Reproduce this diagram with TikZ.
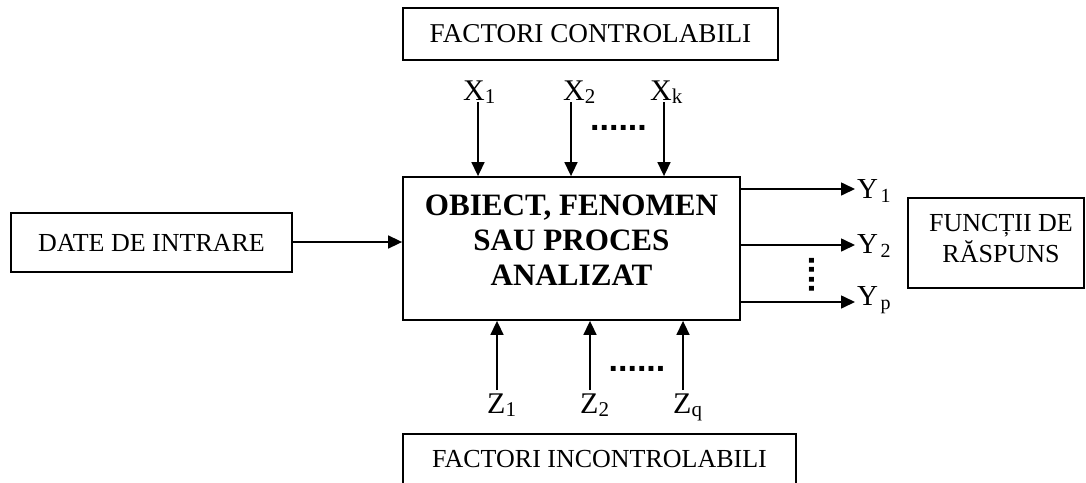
\documentclass[tikz,border=0pt]{standalone}
\usepackage{fontspec}
\setmainfont{Liberation Serif}
\newfontfamily\dotfont{Liberation Sans}
\usetikzlibrary{arrows.meta}
% variable name with a lowered, smaller index
\newcommand\varsub[2]{#1\raisebox{-3pt}{\fontsize{21}{21}\selectfont #2}}
\newcommand\outsub[2]{#1\hspace{2.5pt}\raisebox{-4pt}{\fontsize{20}{20}\selectfont #2}}
\begin{document}
\begin{tikzpicture}[x=1pt,y=-1pt,
  box/.style={draw,line width=1.8pt,inner sep=0pt,align=center},
  arr/.style={line width=1.6pt,-{Triangle[length=14pt,width=13pt]}},
  lbl/.style={inner sep=0pt,anchor=base west,font=\fontsize{30}{30}\selectfont},
  ylbl/.style={inner sep=0pt,anchor=base west,font=\fontsize{29}{29}\selectfont},
  dotrow/.style={inner sep=0pt,font=\fontsize{34}{34}\selectfont\dotfont\bfseries},
  plain/.style={font=\fontsize{26}{31}\selectfont}]
\clip (0,0) rectangle (1086,482);
\useasboundingbox (0,0) rectangle (1086,482);

% blocks
\node[box,minimum width=375pt,minimum height=52pt,font=\fontsize{27.2}{31}\selectfont] (ctrl) at (590.5,34) {FACTORI CONTROLABILI};
\node[box,minimum width=337pt,minimum height=143pt] (main) at (571.5,248.5) {};
\node[inner sep=0pt,align=center,font=\fontsize{31.1}{35}\selectfont\bfseries] (maintxt) at (571.5,240.5)
  {OBIECT, FENOMEN\\SAU PROCES\\ANALIZAT};
\node[box,plain,minimum width=281pt,minimum height=59pt] (date) at (151.5,242.5) {DATE DE INTRARE};
\node[box,minimum width=176pt,minimum height=90pt] (resp) at (996,243) {};
\node[inner sep=0pt,align=center,plain] (resptxt) at (1001,239) {FUNCȚII DE\\RĂSPUNS};
\node[box,plain,minimum width=393pt,minimum height=50pt] (unctrl) at (599.5,459) {FACTORI INCONTROLABILI};

% input data
\coordinate (din) at ([yshift=0.5pt]date.east);
\draw[arr] (din) -- (din -| main.west);

% controllable factors
\node[lbl] (x1) at (463,100) {\varsub{X}{1}};
\node[lbl] (x2) at (563,100) {\varsub{X}{2}};
\node[lbl] (xk) at (650,100) {\varsub{X}{k}};
\coordinate (xt1) at (478,102);
\coordinate (xt2) at (571,102);
\coordinate (xtk) at (664,102);
\foreach \c in {xt1,xt2,xtk} \draw[arr] (\c) -- (\c |- main.north);
\node[dotrow] (xdots) at (618.5,128) {......};

% uncontrollable factors
\node[lbl] (z1) at (487,413) {\varsub{Z}{1}};
\node[lbl] (z2) at (580,413) {\varsub{Z}{2}};
\node[lbl] (zq) at (673,413) {\varsub{Z}{q}};
\coordinate (zb1) at (497,390);
\coordinate (zb2) at (590,390);
\coordinate (zbq) at (683,390);
\foreach \c in {zb1,zb2,zbq} \draw[arr] (\c) -- (\c |- main.south);
\node[dotrow] (zdots) at (637,369) {......};

% responses
\coordinate (ye1) at (855,189);
\coordinate (ye2) at (855,245);
\coordinate (yep) at (855,302);
\foreach \c in {ye1,ye2,yep} \draw[arr] (\c -| main.east) -- (\c);
\node[ylbl] (y1) at (857,198) {\outsub{Y}{1}};
\node[ylbl] (y2) at (857,253) {\outsub{Y}{2}};
\node[ylbl] (yp) at (857,305) {\outsub{Y}{p}};
\node[dotrow,rotate=90] (ydots) at (812,275) {....};
\end{tikzpicture}
\end{document}
